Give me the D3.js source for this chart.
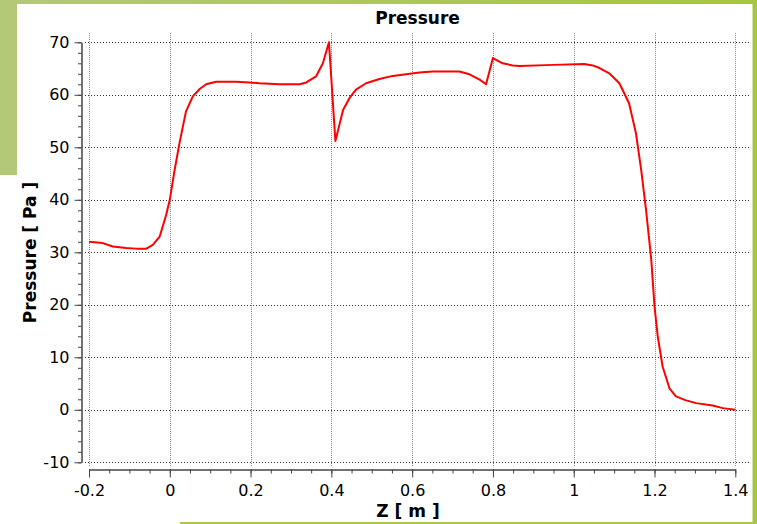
<!DOCTYPE html>
<html>
<head>
<meta charset="utf-8">
<script src="https://cdn.jsdelivr.net/npm/d3@7"></script>
<style>
    body { margin: 0; background: #fff; }
    svg { display: block; font-family: "DejaVu Sans", Verdana, sans-serif; }
    .tick text { fill: #000; }
</style>
</head>
<body>
<div id="chart"></div>
<script>
// valores
const zValues = [-0.2, -0.166, -0.141, -0.108, -0.083, -0.058, -0.042, -0.025, -0.009, 0,
    0.012, 0.024, 0.04, 0.057, 0.074, 0.09, 0.115, 0.164, 0.197, 0.222,
    0.272, 0.321, 0.338, 0.362, 0.379, 0.394, 0.41, 0.429, 0.445, 0.461,
    0.486, 0.519, 0.552, 0.585, 0.618, 0.651, 0.717, 0.742, 0.767, 0.783,
    0.8, 0.824, 0.849, 0.866, 0.95, 1.026, 1.047, 1.064, 1.088, 1.113,
    1.137, 1.154, 1.167, 1.179, 1.192, 1.2, 1.208, 1.22, 1.237, 1.253,
    1.278, 1.303, 1.344, 1.369, 1.4];
const pressureValues = [32.0, 31.75, 31.1, 30.8, 30.7, 30.7, 31.4, 33.0, 37.1, 40.0,
    45.7, 50.8, 56.8, 59.7, 61.1, 62.0, 62.5, 62.5, 62.35, 62.2,
    62.0, 62.0, 62.35, 63.5, 66.0, 70.0, 51.2, 57.1, 59.4, 61.0,
    62.2, 63.0, 63.6, 63.9, 64.25, 64.45, 64.45, 63.9, 62.9, 62.0,
    67.0, 66.0, 65.6, 65.5, 65.7, 65.85, 65.6, 65.1, 64.1, 62.2,
    58.4, 52.7, 45.7, 38.1, 28.6, 19.7, 14.0, 8.25, 4.1, 2.55,
    1.8, 1.27, 0.83, 0.32, 0.0];

const xTicks = [-0.2, 0, 0.2, 0.4, 0.6, 0.8, 1, 1.2, 1.4];
const xTickLabels = ["-0.2", "0", "0.2", "0.4", "0.6", "0.8", "1", "1.2", "1.4"];
const yTicks = [-10, 0, 10, 20, 30, 40, 50, 60, 70];
const yTickLabels = ["-10", "0", "10", "20", "30", "40", "50", "60", "70"];

const W = 757, H = 524;
const svg = d3.select("#chart").append("svg")
    .attr("width", W)
    .attr("height", H);

// moldura verde
const grad = svg.append("defs").append("linearGradient")
    .attr("id", "frame").attr("x1", "0").attr("x2", "1");
grad.append("stop").attr("offset", "0").attr("stop-color", "#b3c977");
grad.append("stop").attr("offset", "1").attr("stop-color", "#a6c540");

svg.append("rect").attr("x", 0).attr("y", 0).attr("width", W).attr("height", 4).attr("fill", "url(#frame)");
svg.append("rect").attr("x", 0).attr("y", 0).attr("width", 17).attr("height", 175).attr("fill", "#b3c977");
svg.append("rect").attr("x", 752.5).attr("y", 0).attr("width", 4.5).attr("height", H).attr("fill", "#a6c540");
svg.append("rect").attr("x", 180).attr("y", 522).attr("width", W - 180).attr("height", 2).attr("fill", "#a9c64c");

// escalas
const x = d3.scaleLinear().domain([-0.2, 1.4]).range([89, 735.3]);
const y = d3.scaleLinear().domain([-10, 70]).range([462.3, 42.3]);

// grade
svg.append("g").selectAll("line")
    .data(xTicks).enter().append("line")
    .attr("x1", d => Math.round(x(d)) + 0.5)
    .attr("x2", d => Math.round(x(d)) + 0.5)
    .attr("y1", 33).attr("y2", 466)
    .attr("stroke", "#8a8a8a")
    .attr("stroke-dasharray", "1,1");

svg.append("g").selectAll("line")
    .data(yTicks).enter().append("line")
    .attr("x1", 85).attr("x2", 751)
    .attr("y1", d => Math.round(y(d)) + 0.5)
    .attr("y2", d => Math.round(y(d)) + 0.5)
    .attr("stroke", "#333")
    .attr("stroke-dasharray", "1,2");

// eixo Y
const minorY = d3.range(-10, 70.01, 2);
svg.append("g")
    .attr("transform", "translate(81.5,0)")
    .call(d3.axisLeft(y).tickValues(minorY).tickSize(3.5).tickSizeOuter(0).tickFormat(""))
    .call(g => g.selectAll("line, path").attr("stroke", "#444"));
svg.append("g")
    .attr("transform", "translate(81.5,0)")
    .call(d3.axisLeft(y).tickValues(yTicks).tickSize(7).tickPadding(5).tickSizeOuter(0)
        .tickFormat((d, i) => yTickLabels[i]))
    .call(g => g.selectAll("line, path").attr("stroke", "#444"))
    .call(g => g.selectAll("text").style("font-size", "16px").style("font-family", "DejaVu Sans"));

// eixo X
const minorX = d3.range(-0.2, 1.4001, 0.05);
svg.append("g")
    .attr("transform", "translate(0,469.5)")
    .call(d3.axisBottom(x).tickValues(minorX).tickSize(4).tickSizeOuter(0).tickFormat(""))
    .call(g => g.selectAll("line, path").attr("stroke", "#444"));
svg.append("g")
    .attr("transform", "translate(0,469.5)")
    .call(d3.axisBottom(x).tickValues(xTicks).tickSize(8).tickPadding(7).tickSizeOuter(0)
        .tickFormat((d, i) => xTickLabels[i]))
    .call(g => g.selectAll("line, path").attr("stroke", "#444"))
    .call(g => g.selectAll("text").style("font-size", "16px").style("font-family", "DejaVu Sans"));

// curva
const points = zValues.map((z, i) => [z, pressureValues[i]]);
svg.append("path")
    .datum(points)
    .attr("d", d3.line().x(d => x(d[0])).y(d => y(d[1])))
    .attr("fill", "none")
    .attr("stroke", "#ff0000")
    .attr("stroke-width", 2)
    .attr("stroke-linejoin", "round");

// títulos
svg.append("text")
    .attr("x", 417.5).attr("y", 24)
    .attr("text-anchor", "middle")
    .style("font-size", "17px").style("font-weight", "bold")
    .text("Pressure");

svg.append("text")
    .attr("transform", "translate(35.5,252.5) rotate(-90)")
    .attr("text-anchor", "middle")
    .style("font-size", "17px").style("font-weight", "bold")
    .text("Pressure [ Pa ]");

svg.append("text")
    .attr("x", 408).attr("y", 516.5)
    .attr("text-anchor", "middle")
    .style("font-size", "17px").style("font-weight", "bold")
    .text("Z [ m ]");
</script>
</body>
</html>
